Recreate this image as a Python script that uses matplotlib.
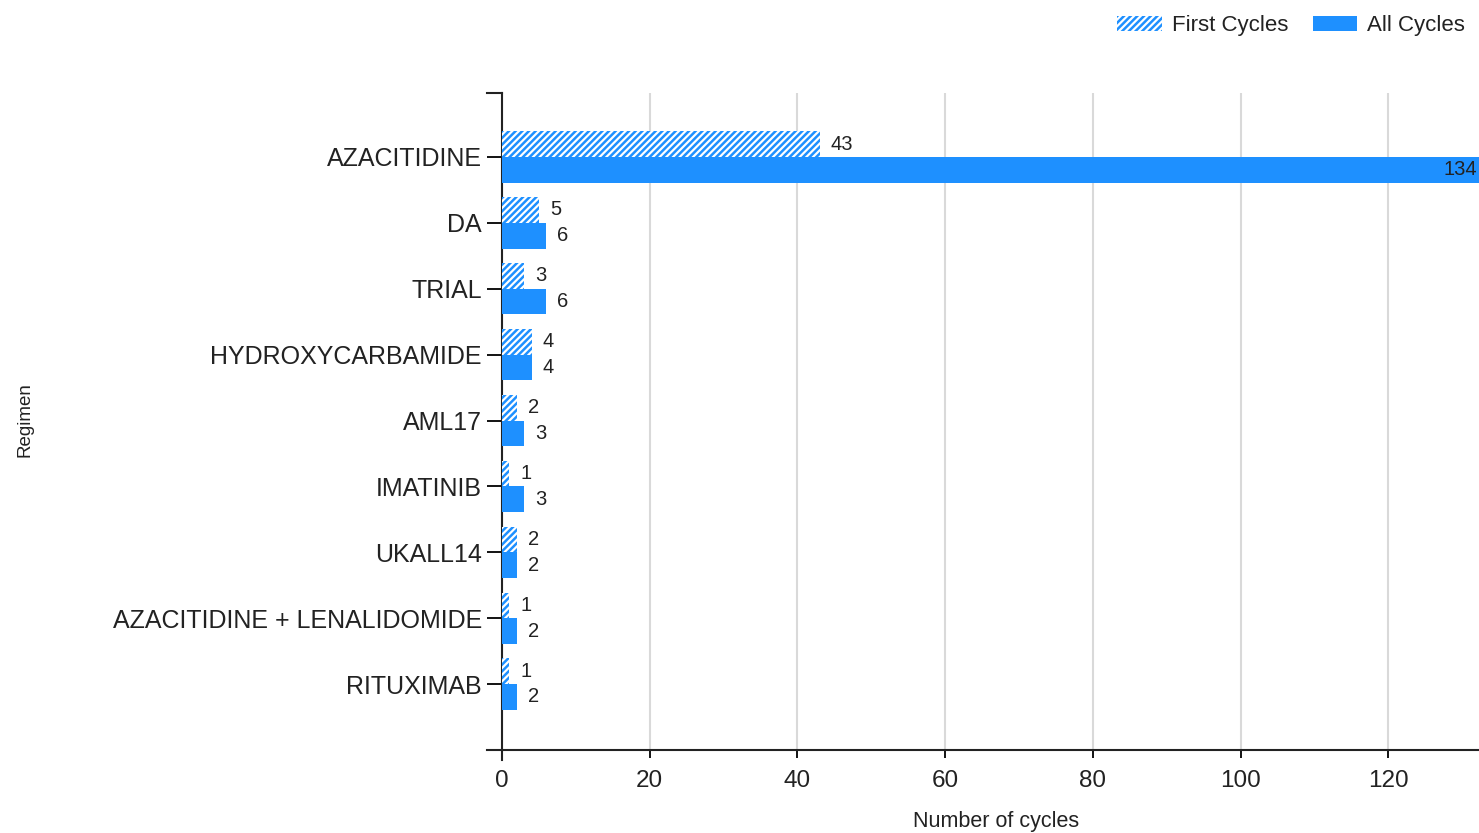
import matplotlib.pyplot as plt
import numpy as np
from matplotlib.patches import Patch

plt.rcParams['font.family'] = ['Liberation Sans', 'DejaVu Sans']
plt.rcParams['hatch.linewidth'] = 1.8

# --- data ---
regimens = ['AZACITIDINE', 'DA', 'TRIAL', 'HYDROXYCARBAMIDE', 'AML17',
            'IMATINIB', 'UKALL14', 'AZACITIDINE + LENALIDOMIDE', 'RITUXIMAB']
first_cycles = [43, 5, 3, 4, 2, 1, 2, 1, 1]
all_cycles = [134, 6, 6, 4, 3, 3, 2, 2, 2]
x_ticks = [0, 20, 40, 60, 80, 100, 120]

blue = '#1E90FF'
W, H = 1479, 833
fig = plt.figure(figsize=(W / 100, H / 100), dpi=100, facecolor='white')
ax = fig.add_axes([502 / W, 1 - 750 / H, 1 - 502 / W, (750 - 93) / H])

y = np.arange(len(regimens))
bh = 0.39
ax.barh(y - bh / 2, first_cycles, height=bh, color='white', edgecolor=blue,
        linewidth=0, hatch='/////', zorder=3)
ax.barh(y + bh / 2, all_cycles, height=bh, color=blue, linewidth=0, zorder=3)

xmax = (W - 502) / 7.385
ax.set_xlim(0, xmax)
ax.set_ylim(len(regimens), -0.97)

# bar labels
for i, (f, a) in enumerate(zip(first_cycles, all_cycles)):
    ax.annotate(str(f), (f, i - bh / 2), xytext=(8, 0), textcoords='offset points',
                ha='left', va='center', fontsize=14.5, color='#222222')
    if a > xmax:
        # bar runs past the axis: put its label inside the visible end
        ax.annotate(str(a), (xmax, i + bh / 2), xytext=(-1, 0), textcoords='offset points',
                    ha='right', va='center', fontsize=14.5, color='#222222')
    else:
        ax.annotate(str(a), (a, i + bh / 2), xytext=(8, 0), textcoords='offset points',
                    ha='left', va='center', fontsize=14.5, color='#222222')

ax.set_yticks(y)
ax.set_yticklabels(regimens, fontsize=18, color='#222222')
ax.set_xticks(x_ticks)
ax.set_xticklabels([str(v) for v in x_ticks], fontsize=17.5, color='#222222')
ax.tick_params(axis='y', length=11, width=1.3, pad=3.5)
ax.tick_params(axis='x', length=6, width=1.3, pad=8.5)

ax.grid(axis='x', color='#d9d9d9', linewidth=1.5, zorder=0)
ax.set_axisbelow(True)
for s in ['top', 'right']:
    ax.spines[s].set_visible(False)
for s in ['left', 'bottom']:
    ax.spines[s].set_linewidth(1.5)
    ax.spines[s].set_color('#222222')

# axis end marks
tr = ax.transAxes
ax.plot([-15 / 977, 0], [1, 1], transform=tr, color='#222222', lw=1.5, clip_on=False)
ax.plot([-15 / 977, 0], [0, 0], transform=tr, color='#222222', lw=1.5, clip_on=False)
ax.plot([0, 0], [0, -10 / 657], transform=tr, color='#222222', lw=1.5, clip_on=False)

fig.text(25 / W, 1 - 420 / H, 'Regimen', rotation=90, ha='center', va='center',
         fontsize=13.5, color='#222222')
fig.text(996 / W, 1 - 822 / H, 'Number of cycles', ha='center', va='center',
         fontsize=15.5, color='#222222')

handles = [Patch(facecolor='white', edgecolor=blue, linewidth=0, hatch='/////',
                 label='First Cycles'),
           Patch(facecolor=blue, linewidth=0, label='All Cycles')]
fig.legend(handles=handles, loc='upper right', bbox_to_anchor=(1 + 6 / W, 1 + 5 / H),
           ncol=2, frameon=False, fontsize=16, handlelength=2.0, handleheight=0.65,
           handletextpad=0.45, columnspacing=1.1, labelcolor='#222222')

fig.savefig('out.png', dpi=100, facecolor='white')
